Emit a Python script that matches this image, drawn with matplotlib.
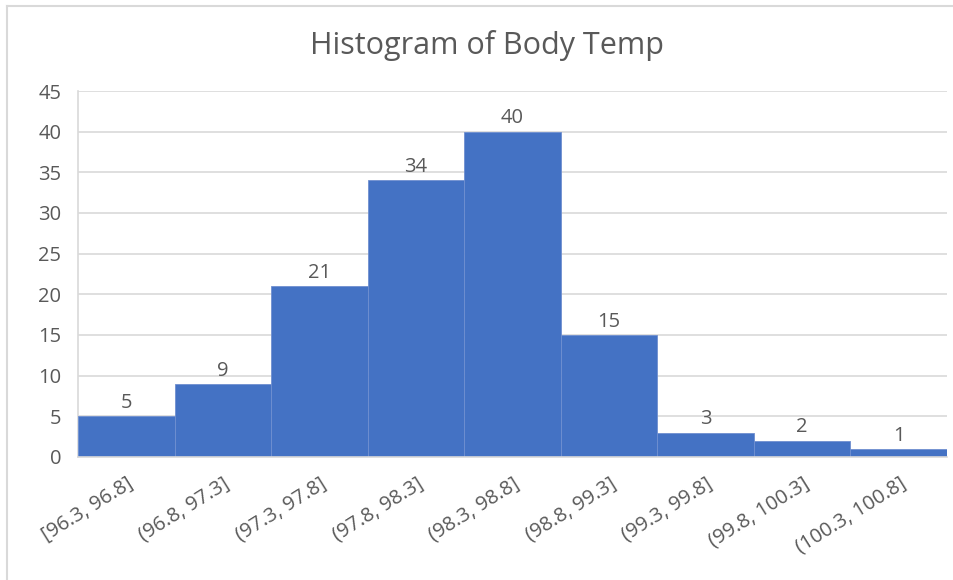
import matplotlib.pyplot as plt
from matplotlib.lines import Line2D

# Histogram bins and counts
bins = ['[96.3, 96.8]', '(96.8, 97.3]', '(97.3, 97.8]', '(97.8, 98.3]',
        '(98.3, 98.8]', '(98.8, 99.3]', '(99.3, 99.8]', '(99.8, 100.3]',
        '(100.3, 100.8]']
counts = [5, 9, 21, 34, 40, 15, 3, 2, 1]
y_ticks = [0, 5, 10, 15, 20, 25, 30, 35, 40, 45]

text_color = '#595959'
grid_color = '#d9d9d9'
bar_color = '#4472C4'

plt.rcParams['font.family'] = ['Open Sans', 'DejaVu Sans']

fig = plt.figure(figsize=(9.54, 5.8), dpi=100)
ax = fig.add_axes([0.0818, 0.2121, 0.9109, 0.6310])

# chart frame (only top and left edges show in the crop)
fig.lines.append(Line2D([0.0075, 1.0], [0.989, 0.989], transform=fig.transFigure,
                        color=grid_color, linewidth=1.5))
fig.lines.append(Line2D([0.0075, 0.0075], [0.0, 0.989], transform=fig.transFigure,
                        color=grid_color, linewidth=1.5))

x = range(len(bins))
ax.bar(x, counts, width=1.0, color=bar_color, edgecolor='#6f8fd0', linewidth=0.6,
       zorder=3)
for i, c in enumerate(counts):
    ax.text(i, c + 0.4, str(c), ha='center', va='bottom', fontsize=14.5,
            color=text_color)

ax.set_xlim(-0.5, len(bins) - 0.5)
ax.set_ylim(0, 45)
ax.set_yticks(y_ticks)
ax.set_xticks(list(x))
ax.set_xticklabels(bins, rotation=32, ha='right', rotation_mode='anchor',
                   fontsize=14.5, color=text_color)
ax.tick_params(axis='y', labelsize=14.5, labelcolor=text_color, length=0, pad=12)
ax.tick_params(axis='x', length=0, pad=12)
ax.yaxis.grid(True, color=grid_color, linewidth=1.2, zorder=0)
for side in ['top', 'right']:
    ax.spines[side].set_visible(False)
ax.spines['left'].set_color(grid_color)
ax.spines['left'].set_linewidth(1.2)
ax.spines['bottom'].set_color(grid_color)
ax.spines['bottom'].set_linewidth(1.2)
ax.spines['bottom'].set_zorder(4)

fig.text(0.511, 0.922, 'Histogram of Body Temp', ha='center', va='center',
         fontsize=22, color=text_color)

fig.savefig('out.png', dpi=100)
